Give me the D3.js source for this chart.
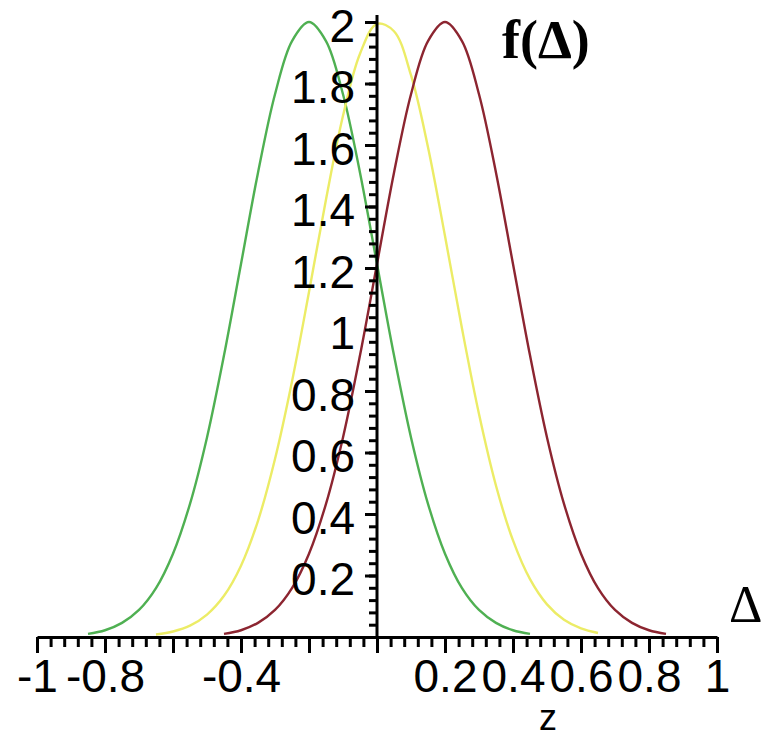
<!DOCTYPE html>
<html>
<head>
<meta charset="utf-8">
<script src="https://cdn.jsdelivr.net/npm/d3@7"></script>
<style>
  body { margin: 0; background: #fff; }
  svg { display: block; }
</style>
</head>
<body>
<svg id="canvas" width="764" height="737"></svg>
<script>
// values
let greenX = [-0.85,-0.8,-0.75,-0.7,-0.65,-0.6,-0.55,-0.5,-0.45,-0.4,-0.35,-0.3,-0.25,-0.2,-0.15,-0.1,-0.05,0,0.05,0.1,0.15,0.2,0.25,0.3,0.35,0.4,0.45]
let greenY = [0.01,0.022,0.046,0.088,0.159,0.271,0.433,0.649,0.916,1.213,1.51,1.765,1.938,2.0,1.938,1.765,1.51,1.213,0.916,0.649,0.433,0.271,0.159,0.088,0.046,0.022,0.01]

let yellowX = [-0.65,-0.6,-0.55,-0.5,-0.45,-0.4,-0.35,-0.3,-0.25,-0.2,-0.15,-0.1,-0.05,0,0.05,0.1,0.15,0.2,0.25,0.3,0.35,0.4,0.45,0.5,0.55,0.6,0.65]
let yellowY = [0.008,0.018,0.037,0.073,0.134,0.232,0.378,0.579,0.831,1.122,1.423,1.695,1.897,1.994,1.97,1.827,1.593,1.304,1.003,0.725,0.492,0.314,0.188,0.106,0.056,0.028,0.013]

let redX = [-0.45,-0.4,-0.35,-0.3,-0.25,-0.2,-0.15,-0.1,-0.05,0,0.05,0.1,0.15,0.2,0.25,0.3,0.35,0.4,0.45,0.5,0.55,0.6,0.65,0.7,0.75,0.8,0.85]
let redY = [0.01,0.022,0.046,0.088,0.159,0.271,0.433,0.649,0.916,1.213,1.51,1.765,1.938,2.0,1.938,1.765,1.51,1.213,0.916,0.649,0.433,0.271,0.159,0.088,0.046,0.022,0.01]

let xMajor = [-1,-0.8,-0.6,-0.4,-0.2,0,0.2,0.4,0.6,0.8,1]
let xLabels = ['-1','-0.8','','-0.4','','','0.2','0.4','0.6','0.8','1']
let yMajor = [0.2,0.4,0.6,0.8,1,1.2,1.4,1.6,1.8,2]
let yLabels = ['0.2','0.4','0.6','0.8','1','1.2','1.4','1.6','1.8','2']

let canvas = d3.select('#canvas')

let xScale = d3.scaleLinear().domain([-1, 1]).range([37, 717])
let yScale = d3.scaleLinear().domain([0, 2]).range([637, 22])

let xMinor = d3.range(0, 51).map((i) => -1 + i * 0.04)
let yMinor = d3.range(1, 51).map((i) => i * 0.04)

// curves
let line = d3.line()
  .x((d) => xScale(d[0]))
  .y((d) => yScale(d[1]))
  .curve(d3.curveCatmullRom)

let series = [
  {xs: greenX, ys: greenY, color: '#4fb052'},
  {xs: yellowX, ys: yellowY, color: '#ecec66'},
  {xs: redX, ys: redY, color: '#8c2530'}
]

series.forEach((s) => {
  canvas.append('path')
    .datum(s.xs.map((x, i) => [x, s.ys[i]]))
    .attr('d', line)
    .attr('fill', 'none')
    .attr('stroke', s.color)
    .attr('stroke-width', 2.4)
})

// x axis
let xMinorAxis = canvas.append('g')
  .attr('transform', 'translate(0,' + yScale(0) + ')')
  .call(d3.axisBottom(xScale).tickValues(xMinor).tickSize(10).tickSizeOuter(0).tickFormat(''))
xMinorAxis.select('.domain').remove()
xMinorAxis.selectAll('line').attr('stroke', '#000').attr('stroke-width', 3)

let xAxis = canvas.append('g')
  .attr('transform', 'translate(0,' + yScale(0) + ')')
  .call(d3.axisBottom(xScale).tickValues(xMajor).tickSize(16).tickSizeOuter(0)
    .tickFormat((d, i) => xLabels[i]))
xAxis.select('.domain').attr('stroke', '#000').attr('stroke-width', 3)
xAxis.selectAll('line').attr('stroke', '#000').attr('stroke-width', 3)
xAxis.selectAll('text')
  .attr('y', 55)
  .attr('dy', 0)
  .attr('fill', '#000')
  .style('font-family', '"Liberation Sans", Arial, sans-serif')
  .style('font-size', '46px')

// y axis
let yMinorAxis = canvas.append('g')
  .attr('transform', 'translate(' + xScale(0) + ',0)')
  .call(d3.axisLeft(yScale).tickValues(yMinor).tickSize(8).tickSizeOuter(0).tickFormat(''))
yMinorAxis.select('.domain').remove()
yMinorAxis.selectAll('line').attr('stroke', '#000').attr('stroke-width', 3)

let yAxis = canvas.append('g')
  .attr('transform', 'translate(' + xScale(0) + ',0)')
  .call(d3.axisLeft(yScale).tickValues(yMajor).tickSize(12).tickSizeOuter(0)
    .tickFormat((d, i) => yLabels[i]))
yAxis.select('.domain').remove()
yAxis.selectAll('line').attr('stroke', '#000').attr('stroke-width', 3)
yAxis.selectAll('text')
  .attr('x', -22)
  .attr('dy', '0.42em')
  .attr('fill', '#000')
  .style('font-family', '"Liberation Sans", Arial, sans-serif')
  .style('font-size', '46px')

canvas.append('line')
  .attr('x1', xScale(0)).attr('x2', xScale(0))
  .attr('y1', yScale(0)).attr('y2', yScale(2) - 7)
  .attr('stroke', '#000')
  .attr('stroke-width', 3)

// titles
canvas.append('text')
  .text('f(Δ)')
  .attr('x', 502)
  .attr('y', 58)
  .style('font-family', '"Liberation Serif", "Times New Roman", serif')
  .style('font-weight', 'bold')
  .style('font-size', '54px')

canvas.append('text')
  .text('Δ')
  .attr('x', 729)
  .attr('y', 622)
  .style('font-family', '"Liberation Serif", "Times New Roman", serif')
  .style('font-size', '52px')

canvas.append('text')
  .text('z')
  .attr('x', 548)
  .attr('y', 730)
  .attr('text-anchor', 'middle')
  .style('font-family', '"Liberation Sans", Arial, sans-serif')
  .style('font-size', '36px')
</script>
</body>
</html>
